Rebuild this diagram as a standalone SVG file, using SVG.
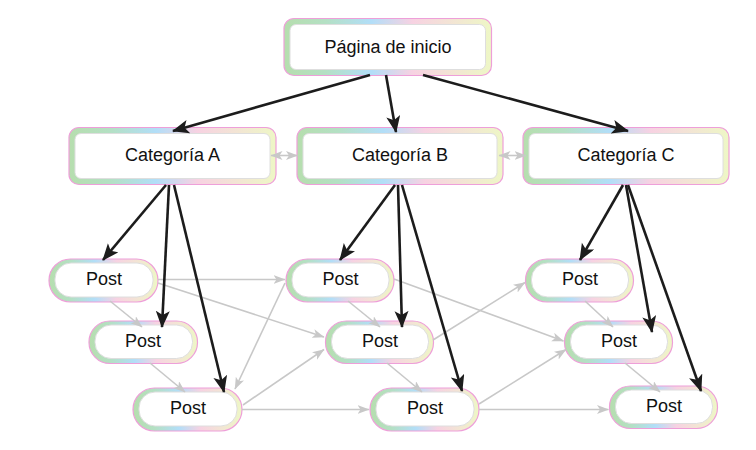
<svg xmlns="http://www.w3.org/2000/svg" width="756" height="450" viewBox="0 0 756 450">
<style>
.ob{fill:url(#rb);stroke:#ee9fd9;stroke-width:1.2}
.in{fill:#fff;stroke:#dedede;stroke-width:1}
.t{font-family:"Liberation Sans",Arial,Helvetica,sans-serif;font-size:18px;fill:#111;text-anchor:middle}
.k{stroke:#1c1c1c;stroke-width:2.6;fill:none;marker-end:url(#ak)}
.g{stroke:#c8c8c8;stroke-width:1.6;fill:none;marker-end:url(#ag)}
.gb{stroke:#c8c8c8;stroke-width:1.6;fill:none;marker-end:url(#ag);marker-start:url(#ag)}
</style>
<defs>
<linearGradient id="rb" x1="0" y1="0" x2="1" y2="0">
<stop offset="0" stop-color="#b6deae"/>
<stop offset="0.2" stop-color="#b4e0c4"/>
<stop offset="0.42" stop-color="#b2def8"/>
<stop offset="0.62" stop-color="#f7d2e2"/>
<stop offset="1" stop-color="#eef7c6"/>
</linearGradient>
<marker id="ak" markerUnits="userSpaceOnUse" markerWidth="18" markerHeight="16" viewBox="0 0 18 16" refX="16" refY="7" orient="auto">
<path d="M0,0 L17,7 L0,14 L4,7 Z" fill="#1c1c1c"/>
</marker>
<marker id="ag" markerUnits="userSpaceOnUse" markerWidth="13" markerHeight="11" viewBox="0 0 13 11" refX="11.5" refY="4.5" orient="auto-start-reverse">
<path d="M0,0 L12,4.5 L0,9 L3,4.5 Z" fill="#c8c8c8"/>
</marker>
</defs>
<rect width="756" height="450" fill="#fff"/>

<g id="home">
<rect class="ob" x="284" y="18.5" width="207.5" height="57" rx="10"/>
<rect class="in" x="290" y="24.5" width="195.5" height="45" rx="6"/>
<text class="t" x="388" y="52.5">Página de inicio</text>
</g>
<g id="catA">
<rect class="ob" x="69" y="127.5" width="207" height="57" rx="10"/>
<rect class="in" x="75" y="133.5" width="195" height="45" rx="6"/>
<text class="t" x="172.5" y="161">Categoría A</text>
</g>
<g id="catB">
<rect class="ob" x="297" y="127.5" width="206" height="57" rx="10"/>
<rect class="in" x="303" y="133.5" width="194" height="45" rx="6"/>
<text class="t" x="400" y="161">Categoría B</text>
</g>
<g id="catC">
<rect class="ob" x="523" y="127.5" width="206" height="57" rx="10"/>
<rect class="in" x="529" y="133.5" width="194" height="45" rx="6"/>
<text class="t" x="626" y="161">Categoría C</text>
</g>

<g id="p1">
<rect class="ob" x="49" y="259" width="109" height="43" rx="21.5"/>
<rect class="in" x="55" y="263" width="98" height="34" rx="16"/>
<text class="t" x="104" y="285">Post</text>
</g>
<g id="p2">
<rect class="ob" x="89" y="321" width="108.5" height="42.5" rx="21"/>
<rect class="in" x="95" y="325" width="97.5" height="33.5" rx="16"/>
<text class="t" x="143" y="347">Post</text>
</g>
<g id="p3">
<rect class="ob" x="133" y="388" width="109" height="43" rx="21.5"/>
<rect class="in" x="139" y="392" width="98" height="34" rx="16"/>
<text class="t" x="188" y="414">Post</text>
</g>
<g id="p4">
<rect class="ob" x="286" y="259" width="108" height="43" rx="21.5"/>
<rect class="in" x="292" y="263" width="97" height="34" rx="16"/>
<text class="t" x="340.5" y="285">Post</text>
</g>
<g id="p5">
<rect class="ob" x="325.5" y="321" width="108" height="42.5" rx="21"/>
<rect class="in" x="331.5" y="325" width="97" height="33.5" rx="16"/>
<text class="t" x="380" y="347">Post</text>
</g>
<g id="p6">
<rect class="ob" x="370" y="388" width="109" height="43" rx="21.5"/>
<rect class="in" x="376" y="392" width="98" height="34" rx="16"/>
<text class="t" x="425" y="414">Post</text>
</g>
<g id="p7">
<rect class="ob" x="525.5" y="259" width="108" height="43" rx="21.5"/>
<rect class="in" x="531.5" y="263" width="97" height="34" rx="16"/>
<text class="t" x="580" y="285">Post</text>
</g>
<g id="p8">
<rect class="ob" x="564.5" y="321" width="108" height="42.5" rx="21"/>
<rect class="in" x="570.5" y="325" width="97" height="33.5" rx="16"/>
<text class="t" x="619" y="347">Post</text>
</g>
<g id="p9">
<rect class="ob" x="609.5" y="386" width="108" height="42.5" rx="21"/>
<rect class="in" x="615.5" y="390" width="97" height="33.5" rx="16"/>
<text class="t" x="664" y="412">Post</text>
</g>

<g id="connectors">
<line class="gb" x1="271" y1="155.5" x2="297.5" y2="155.5"/>
<line class="gb" x1="499" y1="155.5" x2="526" y2="155.5"/>

<line class="g" x1="158" y1="279.5" x2="285" y2="279.5"/>
<line class="g" x1="158" y1="283" x2="324" y2="337"/>
<line class="g" x1="110" y1="301" x2="142" y2="327"/>
<line class="g" x1="150" y1="363" x2="185" y2="392"/>
<line class="g" x1="285" y1="283" x2="235" y2="389"/>
<line class="g" x1="243" y1="405" x2="324" y2="349.5"/>
<line class="g" x1="242" y1="409.5" x2="369" y2="409.5"/>
<line class="g" x1="348" y1="301" x2="380" y2="327"/>
<line class="g" x1="387" y1="363" x2="422" y2="392"/>
<line class="g" x1="394" y1="279" x2="563.5" y2="341"/>
<line class="g" x1="433" y1="340" x2="525" y2="282.5"/>
<line class="g" x1="479" y1="404" x2="566" y2="349.5"/>
<line class="g" x1="479" y1="409.5" x2="608.5" y2="409.5"/>
<line class="g" x1="585" y1="301" x2="613" y2="327"/>
<line class="g" x1="625" y1="363" x2="660" y2="392"/>

<line class="k" x1="370" y1="75" x2="173" y2="131"/>
<line class="k" x1="386" y1="75" x2="396" y2="132"/>
<line class="k" x1="423" y1="75" x2="628" y2="131"/>
<line class="k" x1="166" y1="185" x2="103" y2="260"/>
<line class="k" x1="169" y1="185" x2="162" y2="327"/>
<line class="k" x1="174" y1="185" x2="224" y2="392"/>
<line class="k" x1="395" y1="185" x2="340" y2="260"/>
<line class="k" x1="398" y1="185" x2="402" y2="327"/>
<line class="k" x1="402" y1="185" x2="462" y2="391"/>
<line class="k" x1="623" y1="185" x2="580" y2="260"/>
<line class="k" x1="626" y1="185" x2="652" y2="332"/>
<line class="k" x1="628" y1="185" x2="701" y2="391"/>
</g>
</svg>
